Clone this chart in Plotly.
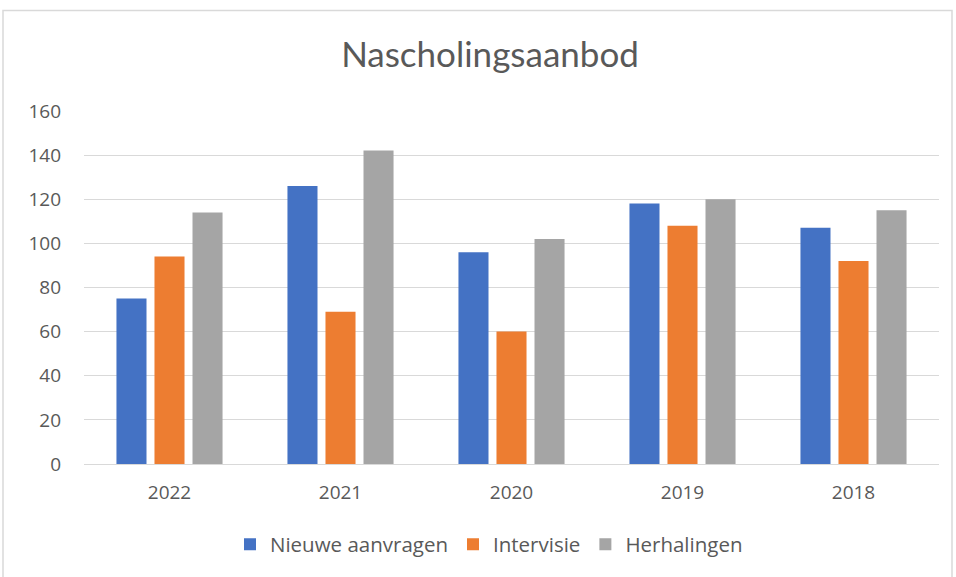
import plotly.graph_objects as go

years = ["2022", "2021", "2020", "2019", "2018"]
nieuwe = [75, 126, 96, 118, 107]
intervisie = [94, 69, 60, 108, 92]
herhalingen = [114, 142, 102, 120, 115]
y_ticks = [0, 20, 40, 60, 80, 100, 120, 140, 160]

series = [
    ("Nieuwe aanvragen", nieuwe, "#4472C4"),
    ("Intervisie", intervisie, "#ED7D31"),
    ("Herhalingen", herhalingen, "#A5A5A5"),
]

fig = go.Figure()
for name, vals, col in series:
    fig.add_trace(go.Bar(x=years, y=vals, name=name, marker=dict(color=col, line=dict(width=0))))

W, H = 956, 577
L, R, T, B = 84, 17, 110, 111
pw, ph = W - L - R, H - T - B
ymax = 160.4

def px(x):
    return (x - L) / pw

def py(y):
    return (H - B - y) / ph

fig.update_layout(
    width=W, height=H,
    margin=dict(l=L, r=R, t=T, b=B),
    paper_bgcolor="white", plot_bgcolor="white",
    barmode="group", bargap=0.333, bargroupgap=0.21,
    font=dict(family="Open Sans, sans-serif", color="#595959", size=19),
    title=dict(text="Nascholingsaanbod", x=490 / W, xanchor="center", y=1 - 55 / H, yanchor="middle",
               font=dict(family="Lato, sans-serif", size=35, color="#595959")),
    legend=dict(orientation="h", x=px(489), xanchor="center", y=py(547), yanchor="middle",
                font=dict(size=20.5, color="#595959"), traceorder="normal", itemwidth=30),
    xaxis=dict(showgrid=False, showline=True, linecolor="#D9D9D9", linewidth=1, ticks="",
               ticklabelstandoff=11, tickfont=dict(size=19, color="#595959")),
    yaxis=dict(range=[0, ymax], tickvals=y_ticks, showgrid=True, gridcolor="#D9D9D9", gridwidth=1,
               zeroline=False, ticks="", ticklabelstandoff=22,
               tickfont=dict(size=19, color="#595959")),
    shapes=[dict(type="rect", xref="paper", yref="paper",
                 x0=px(3), x1=px(952), y0=py(600), y1=py(10),
                 line=dict(color="#D9D9D9", width=1.5), layer="below")],
)

fig.write_html("out.html", config={"displayModeBar": False},
               post_script="document.body.style.margin='0';document.body.style.overflow='hidden';")
